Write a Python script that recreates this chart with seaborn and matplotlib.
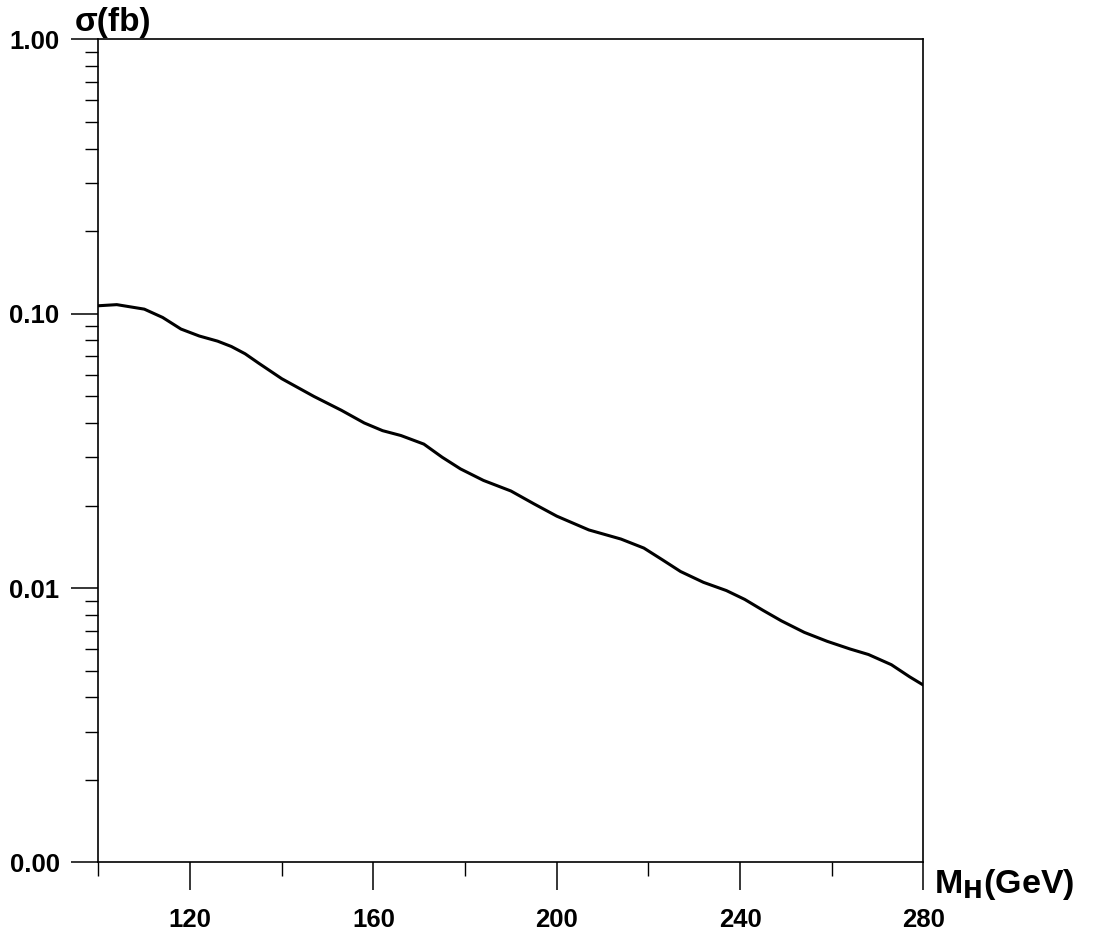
import matplotlib
matplotlib.use("Agg")
import matplotlib.pyplot as plt
import seaborn as sns
import pandas as pd
from matplotlib.ticker import FixedLocator, FixedFormatter, NullFormatter

# Data
mass = [100, 104, 110, 114, 118, 122, 126, 129, 132, 135, 140, 147, 153, 158,
        162, 166, 171, 175, 179, 184, 190, 195, 200, 207, 214, 219, 223, 227,
        232, 237, 241, 245, 249, 254, 259, 264, 268, 273, 277, 280]
sigma = [0.107, 0.108, 0.104, 0.097, 0.088, 0.083, 0.0795, 0.076, 0.0715, 0.066,
         0.058, 0.050, 0.0445, 0.040, 0.0375, 0.036, 0.0335, 0.030, 0.0272,
         0.0247, 0.0226, 0.0203, 0.0183, 0.0163, 0.0151, 0.0140, 0.0127, 0.0115,
         0.0105, 0.0098, 0.0091, 0.0083, 0.0076, 0.0069, 0.0064, 0.0060,
         0.00573, 0.00526, 0.00475, 0.00443]

x_major = [120, 160, 200, 240, 280]
x_major_labels = ["120", "160", "200", "240", "280"]
x_minor = [100, 140, 180, 220, 260]
y_major = [0.001, 0.01, 0.1, 1.0]
y_major_labels = ["0.00", "0.01", "0.10", "1.00"]

sns.set_theme(style="white")
plt.rcParams["font.family"] = ["Liberation Sans", "DejaVu Sans"]
plt.rcParams["mathtext.default"] = "regular"
plt.rcParams["xtick.color"] = "black"
plt.rcParams["ytick.color"] = "black"
plt.rcParams["text.color"] = "black"

df = pd.DataFrame({"M": mass, "sigma": sigma})

fig = plt.figure(figsize=(11.05, 9.42), dpi=100)
ax = fig.add_axes([0.0891, 0.0844, 0.7466, 0.8737])

sns.lineplot(data=df, x="M", y="sigma", ax=ax, color="black", linewidth=2.2)

ax.set_yscale("log")
ax.set_xlim(100, 280)
ax.set_ylim(1e-3, 1.0)

ax.yaxis.set_major_locator(FixedLocator(y_major))
ax.yaxis.set_major_formatter(FixedFormatter(y_major_labels))
minors = []
for dec in [1e-3, 1e-2, 1e-1]:
    for s in range(2, 10):
        minors.append(dec * s)
ax.yaxis.set_minor_locator(FixedLocator(minors))
ax.yaxis.set_minor_formatter(NullFormatter())

ax.xaxis.set_major_locator(FixedLocator(x_major))
ax.xaxis.set_major_formatter(FixedFormatter(x_major_labels))
ax.xaxis.set_minor_locator(FixedLocator(x_minor))
ax.xaxis.set_minor_formatter(NullFormatter())

ax.tick_params(axis="y", which="major", direction="out", length=19.5, width=1.1,
               color="black", labelsize=18.5, labelcolor="black", pad=8.5, left=True)
ax.tick_params(axis="y", which="minor", direction="out", length=9.5, width=1.0,
               color="black", left=True)
ax.tick_params(axis="x", which="major", direction="out", length=20, width=1.1,
               color="black", labelsize=18.5, labelcolor="black", pad=12.5, bottom=True)
ax.tick_params(axis="x", which="minor", direction="out", length=10, width=1.0,
               color="black", bottom=True)
for lab in ax.get_xticklabels() + ax.get_yticklabels():
    lab.set_fontweight("bold")

for sp in ax.spines.values():
    sp.set_visible(True)
    sp.set_color("black")
    sp.set_linewidth(1.2)

ax.set_xlabel("")
ax.set_ylabel("")
ax.grid(False)

fig.text(75 / 1105, 1 - 31 / 942, "σ(fb)", fontsize=24, ha="left", va="baseline",
         color="black", fontweight="bold")
fig.text(934 / 1105, 1 - 893 / 942, r"M$_{\mathbf{H}}$(GeV)", fontsize=24.5,
         ha="left", va="baseline", color="black", fontweight="bold")

fig.savefig("out.png", dpi=100, facecolor="white")
